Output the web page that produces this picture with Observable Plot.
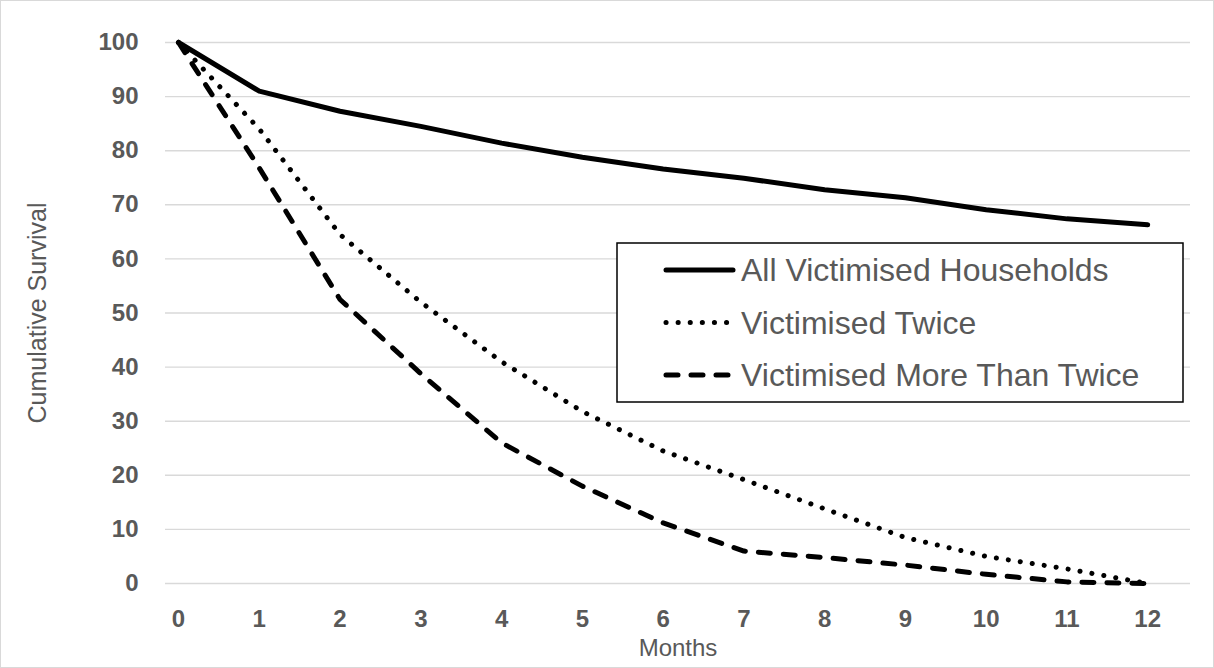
<!DOCTYPE html>
<html>
<head>
<meta charset="utf-8">
<script src="https://cdn.jsdelivr.net/npm/d3@7"></script>
<script src="https://cdn.jsdelivr.net/npm/@observablehq/plot@0.6"></script>
<style>
  html, body { margin: 0; padding: 0; background: #fff; }
  #chart { width: 1214px; height: 668px; }
  svg { font-family: "Liberation Sans", Arial, sans-serif; }
</style>
</head>
<body>
<div id="chart"></div>
<script>
// ---- data ----
const months = [0, 1, 2, 3, 4, 5, 6, 7, 8, 9, 10, 11, 12];
const allVictimised = [100, 91.0, 87.3, 84.5, 81.4, 78.8, 76.6, 74.9, 72.8, 71.3, 69.1, 67.4, 66.3];
const victimisedTwice = [100, 84, 64.5, 52, 41, 31.8, 24.5, 19.2, 13.8, 8.5, 5, 2.7, 0];
const victimisedMoreThanTwice = [100, 76.8, 52.5, 38.8, 26, 18, 11.2, 6, 4.8, 3.4, 1.7, 0.3, 0];
const seriesNames = ["All Victimised Households", "Victimised Twice", "Victimised More Than Twice"];
const yTicks = [0, 10, 20, 30, 40, 50, 60, 70, 80, 90, 100];
const xLabel = "Months";
const yLabel = "Cumulative Survival";

// ---- build table ----
const seriesValues = [allVictimised, victimisedTwice, victimisedMoreThanTwice];
const rows = [];
seriesNames.forEach((name, i) => {
  months.forEach((m, j) => rows.push({series: name, month: m, value: seriesValues[i][j]}));
});
const styles = {
  [seriesNames[0]]: {strokeDasharray: null},
  [seriesNames[1]]: {strokeDasharray: "0.1 12"},
  [seriesNames[2]]: {strokeDasharray: "12 13"}
};

const textColor = "#595959";
const plot = Plot.plot({
  width: 1214,
  height: 668,
  marginLeft: 165,
  marginRight: 24,
  marginTop: 42,
  marginBottom: 85,
  style: {fontFamily: "'Liberation Sans', Arial, sans-serif", background: "#fff"},
  x: {domain: [-0.161, 12.53]},
  y: {domain: [0, 100]},
  marks: [
    Plot.gridY(yTicks, {stroke: "#d9d9d9", strokeOpacity: 1, strokeWidth: 1.4}),
    Plot.axisY(yTicks, {tickSize: 0, tickPadding: 27, fontSize: 24, fontWeight: "bold", fill: textColor, label: null}),
    Plot.axisX(months, {tickSize: 0, tickPadding: 26, fontSize: 24, fontWeight: "bold", fill: textColor, label: null, tickFormat: d => String(d)}),
    Plot.text([xLabel], {frameAnchor: "bottom", dy: 72, fontSize: 24, fill: textColor, textAnchor: "middle"}),
    Plot.text([yLabel], {frameAnchor: "left", dx: -128, rotate: -90, fontSize: 25, fill: textColor, textAnchor: "middle"}),
    ...seriesNames.map(name => Plot.line(rows.filter(d => d.series === name), {
      x: "month", y: "value", stroke: "#000", strokeWidth: 5,
      strokeLinecap: "round", strokeLinejoin: "round",
      strokeDasharray: styles[name].strokeDasharray
    }))
  ]
});
document.getElementById("chart").appendChild(plot);

// ---- chart border + legend ----
const svg = d3.select(plot);
svg.append("rect").attr("x", 0.5).attr("y", 0.5).attr("width", 1213).attr("height", 667)
  .attr("fill", "none").attr("stroke", "#d9d9d9").attr("stroke-width", 1);

const lg = svg.append("g");
const box = {x: 617, y: 243, w: 566, h: 159};
lg.append("rect").attr("x", box.x).attr("y", box.y).attr("width", box.w).attr("height", box.h)
  .attr("fill", "#fff").attr("stroke", "#000").attr("stroke-width", 1.5);
seriesNames.forEach((name, i) => {
  const cy = 270 + i * 52.5;
  lg.append("line").attr("x1", 666).attr("x2", 733).attr("y1", cy).attr("y2", cy)
    .attr("stroke", "#000").attr("stroke-width", 5).attr("stroke-linecap", "round")
    .attr("stroke-dasharray", styles[name].strokeDasharray);
  lg.append("text").attr("x", 741).attr("y", cy).attr("dy", "0.35em")
    .attr("text-anchor", "start")
    .attr("font-size", 32).attr("fill", textColor).text(name);
});
</script>
</body>
</html>
